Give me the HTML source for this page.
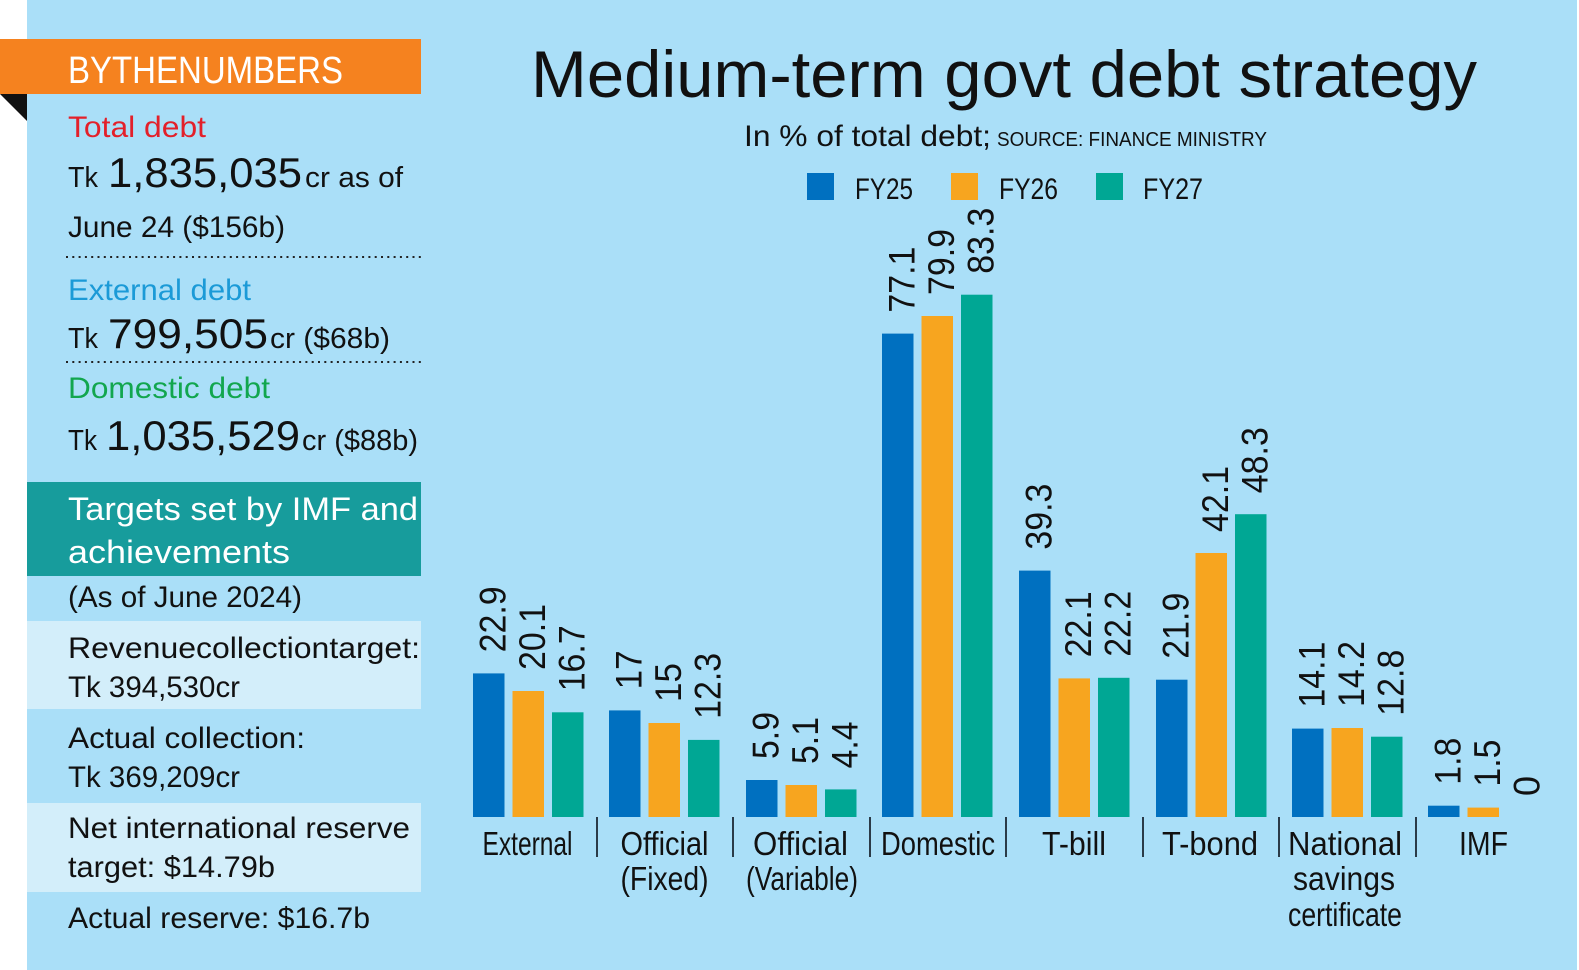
<!DOCTYPE html>
<html><head><meta charset="utf-8"><style>
html,body{margin:0;padding:0;background:#fff;}
svg{display:block;}
text{font-family:"Liberation Sans",sans-serif;}
</style></head><body>
<svg width="1579" height="970" viewBox="0 0 1579 970" xmlns="http://www.w3.org/2000/svg">
<rect x="0" y="0" width="1579" height="970" fill="#ffffff"/>
<rect x="27" y="0" width="1550" height="970" fill="#aadff8"/>
<!-- left panel -->
<rect x="0" y="39" width="421" height="55" fill="#f5821f"/>
<polygon points="0,94 27,94 27,121" fill="#111"/>
<text x="68" y="83" font-size="38" fill="#fff" textLength="275" lengthAdjust="spacingAndGlyphs">BYTHENUMBERS</text>
<text x="68" y="137" font-size="30" fill="#e3202a" textLength="138" lengthAdjust="spacingAndGlyphs">Total debt</text>
<text x="68" y="187" font-size="29" fill="#111" textLength="30" lengthAdjust="spacingAndGlyphs">Tk</text>
<text x="108" y="187" font-size="42" fill="#111" textLength="194" lengthAdjust="spacingAndGlyphs">1,835,035</text>
<text x="305" y="187" font-size="29" fill="#111" textLength="98" lengthAdjust="spacingAndGlyphs">cr as of</text>
<text x="68" y="237" font-size="30" fill="#111" textLength="217" lengthAdjust="spacingAndGlyphs">June 24 ($156b)</text>
<line x1="66" y1="257" x2="422" y2="257" stroke="#222" stroke-width="2" stroke-dasharray="2 4.3"/>
<text x="68" y="300" font-size="30" fill="#1b9ad7" textLength="183" lengthAdjust="spacingAndGlyphs">External debt</text>
<text x="68" y="348" font-size="29" fill="#111" textLength="30" lengthAdjust="spacingAndGlyphs">Tk</text>
<text x="108" y="348" font-size="42" fill="#111" textLength="160" lengthAdjust="spacingAndGlyphs">799,505</text>
<text x="270" y="348" font-size="29" fill="#111" textLength="120" lengthAdjust="spacingAndGlyphs">cr ($68b)</text>
<line x1="66" y1="362" x2="422" y2="362" stroke="#222" stroke-width="2" stroke-dasharray="2 4.3"/>
<text x="68" y="398" font-size="30" fill="#12a64e" textLength="202" lengthAdjust="spacingAndGlyphs">Domestic debt</text>
<text x="68" y="450" font-size="29" fill="#111" textLength="29" lengthAdjust="spacingAndGlyphs">Tk</text>
<text x="106" y="450" font-size="42" fill="#111" textLength="194" lengthAdjust="spacingAndGlyphs">1,035,529</text>
<text x="302" y="450" font-size="29" fill="#111" textLength="116" lengthAdjust="spacingAndGlyphs">cr ($88b)</text>

<rect x="27" y="482" width="394" height="94" fill="#179c9c"/>
<text x="68" y="520" font-size="32" fill="#fff" textLength="350" lengthAdjust="spacingAndGlyphs">Targets set by IMF and</text>
<text x="68" y="563" font-size="32" fill="#fff" textLength="222" lengthAdjust="spacingAndGlyphs">achievements</text>
<text x="68" y="607" font-size="30" fill="#111" textLength="234" lengthAdjust="spacingAndGlyphs">(As of June 2024)</text>
<rect x="27" y="621" width="394" height="88" fill="#d3eefa"/>
<text x="68" y="658" font-size="30" fill="#111" textLength="352" lengthAdjust="spacingAndGlyphs">Revenuecollectiontarget:</text>
<text x="68" y="697" font-size="30" fill="#111" textLength="172" lengthAdjust="spacingAndGlyphs">Tk 394,530cr</text>
<text x="68" y="748" font-size="30" fill="#111" textLength="237" lengthAdjust="spacingAndGlyphs">Actual collection:</text>
<text x="68" y="787" font-size="30" fill="#111" textLength="172" lengthAdjust="spacingAndGlyphs">Tk 369,209cr</text>
<rect x="27" y="803" width="394" height="89" fill="#d3eefa"/>
<text x="68" y="838" font-size="30" fill="#111" textLength="342" lengthAdjust="spacingAndGlyphs">Net international reserve</text>
<text x="68" y="877" font-size="30" fill="#111" textLength="207" lengthAdjust="spacingAndGlyphs">target: $14.79b</text>
<text x="68" y="928" font-size="30" fill="#111" textLength="302" lengthAdjust="spacingAndGlyphs">Actual reserve: $16.7b</text>

<!-- title -->
<text x="531" y="97" font-size="66" fill="#111" textLength="946" lengthAdjust="spacingAndGlyphs">Medium-term govt debt strategy</text>
<text x="744" y="146" font-size="30" fill="#111" textLength="247" lengthAdjust="spacingAndGlyphs">In % of total debt;</text>
<text x="997" y="146" font-size="20" fill="#111" textLength="270" lengthAdjust="spacingAndGlyphs">SOURCE: FINANCE MINISTRY</text>

<!-- legend -->
<rect x="807" y="173" width="27" height="27" fill="#0070c0"/>
<text x="855" y="199" font-size="30" fill="#111" textLength="58" lengthAdjust="spacingAndGlyphs">FY25</text>
<rect x="951" y="173" width="27" height="27" fill="#f7a51f"/>
<text x="999" y="199" font-size="30" fill="#111" textLength="59" lengthAdjust="spacingAndGlyphs">FY26</text>
<rect x="1096" y="173" width="27" height="27" fill="#00a794"/>
<text x="1143" y="199" font-size="30" fill="#111" textLength="60" lengthAdjust="spacingAndGlyphs">FY27</text>

<!-- bars -->
<g>
<!-- External 473 -->
<rect x="473" y="673.4" width="31.5" height="143.6" fill="#0070c0"/>
<rect x="512.5" y="691" width="31.5" height="126" fill="#f7a51f"/>
<rect x="552" y="712.3" width="31.5" height="104.7" fill="#00a794"/>
<!-- Fixed 609 -->
<rect x="609" y="710.4" width="31.5" height="106.6" fill="#0070c0"/>
<rect x="648.5" y="723" width="31.5" height="94" fill="#f7a51f"/>
<rect x="688" y="739.9" width="31.5" height="77.1" fill="#00a794"/>
<!-- Variable 746 -->
<rect x="746" y="780" width="31.5" height="37" fill="#0070c0"/>
<rect x="785.5" y="785" width="31.5" height="32" fill="#f7a51f"/>
<rect x="825" y="789.4" width="31.5" height="27.6" fill="#00a794"/>
<!-- Domestic 882 -->
<rect x="882" y="333.6" width="31.5" height="483.4" fill="#0070c0"/>
<rect x="921.5" y="316" width="31.5" height="501" fill="#f7a51f"/>
<rect x="961" y="294.7" width="31.5" height="522.3" fill="#00a794"/>
<!-- T-bill 1019 -->
<rect x="1019" y="570.6" width="31.5" height="246.4" fill="#0070c0"/>
<rect x="1058.5" y="678.4" width="31.5" height="138.6" fill="#f7a51f"/>
<rect x="1098" y="677.8" width="31.5" height="139.2" fill="#00a794"/>
<!-- T-bond 1156 -->
<rect x="1156" y="679.7" width="31.5" height="137.3" fill="#0070c0"/>
<rect x="1195.5" y="553" width="31.5" height="264" fill="#f7a51f"/>
<rect x="1235" y="514.2" width="31.5" height="302.8" fill="#00a794"/>
<!-- National 1292 -->
<rect x="1292" y="728.6" width="31.5" height="88.4" fill="#0070c0"/>
<rect x="1331.5" y="728" width="31.5" height="89" fill="#f7a51f"/>
<rect x="1371" y="736.7" width="31.5" height="80.3" fill="#00a794"/>
<!-- IMF 1428 -->
<rect x="1428" y="805.7" width="31.5" height="11.3" fill="#0070c0"/>
<rect x="1467.5" y="807.6" width="31.5" height="9.4" fill="#f7a51f"/>
</g>

<!-- value labels -->
<g font-size="37" fill="#111">
<text transform="translate(505.5,652.4) rotate(-90)" textLength="66" lengthAdjust="spacingAndGlyphs">22.9</text>
<text transform="translate(545,670) rotate(-90)" textLength="66" lengthAdjust="spacingAndGlyphs">20.1</text>
<text transform="translate(584.5,691.3) rotate(-90)" textLength="66" lengthAdjust="spacingAndGlyphs">16.7</text>

<text transform="translate(641.5,689.4) rotate(-90)" textLength="39" lengthAdjust="spacingAndGlyphs">17</text>
<text transform="translate(681,702) rotate(-90)" textLength="39" lengthAdjust="spacingAndGlyphs">15</text>
<text transform="translate(720.5,718.9) rotate(-90)" textLength="66" lengthAdjust="spacingAndGlyphs">12.3</text>

<text transform="translate(778.5,759) rotate(-90)" textLength="47" lengthAdjust="spacingAndGlyphs">5.9</text>
<text transform="translate(818,764) rotate(-90)" textLength="47" lengthAdjust="spacingAndGlyphs">5.1</text>
<text transform="translate(857.5,768.4) rotate(-90)" textLength="47" lengthAdjust="spacingAndGlyphs">4.4</text>

<text transform="translate(914.5,312.6) rotate(-90)" textLength="66" lengthAdjust="spacingAndGlyphs">77.1</text>
<text transform="translate(954,295) rotate(-90)" textLength="66" lengthAdjust="spacingAndGlyphs">79.9</text>
<text transform="translate(993.5,273.7) rotate(-90)" textLength="66" lengthAdjust="spacingAndGlyphs">83.3</text>

<text transform="translate(1051.5,549.6) rotate(-90)" textLength="66" lengthAdjust="spacingAndGlyphs">39.3</text>
<text transform="translate(1091,657.4) rotate(-90)" textLength="66" lengthAdjust="spacingAndGlyphs">22.1</text>
<text transform="translate(1130.5,656.8) rotate(-90)" textLength="66" lengthAdjust="spacingAndGlyphs">22.2</text>

<text transform="translate(1188.5,658.7) rotate(-90)" textLength="66" lengthAdjust="spacingAndGlyphs">21.9</text>
<text transform="translate(1228,532) rotate(-90)" textLength="66" lengthAdjust="spacingAndGlyphs">42.1</text>
<text transform="translate(1267.5,493.2) rotate(-90)" textLength="66" lengthAdjust="spacingAndGlyphs">48.3</text>

<text transform="translate(1324.5,707.6) rotate(-90)" textLength="66" lengthAdjust="spacingAndGlyphs">14.1</text>
<text transform="translate(1364,707) rotate(-90)" textLength="66" lengthAdjust="spacingAndGlyphs">14.2</text>
<text transform="translate(1403.5,715.7) rotate(-90)" textLength="66" lengthAdjust="spacingAndGlyphs">12.8</text>

<text transform="translate(1460.5,784.7) rotate(-90)" textLength="47" lengthAdjust="spacingAndGlyphs">1.8</text>
<text transform="translate(1500,786.6) rotate(-90)" textLength="47" lengthAdjust="spacingAndGlyphs">1.5</text>
<text transform="translate(1539.5,796) rotate(-90)" textLength="20" lengthAdjust="spacingAndGlyphs">0</text>
</g>

<!-- separators -->
<g stroke="#2b3b48" stroke-width="2">
<line x1="597" y1="817" x2="597" y2="857"/>
<line x1="733" y1="817" x2="733" y2="857"/>
<line x1="870" y1="817" x2="870" y2="857"/>
<line x1="1006" y1="817" x2="1006" y2="857"/>
<line x1="1143" y1="817" x2="1143" y2="857"/>
<line x1="1279" y1="817" x2="1279" y2="857"/>
<line x1="1416" y1="817" x2="1416" y2="857"/>
</g>

<!-- category labels -->
<g font-size="33" fill="#111" text-anchor="middle">
<text x="527.5" y="855" textLength="90" lengthAdjust="spacingAndGlyphs">External</text>
<text x="664.5" y="855" textLength="88" lengthAdjust="spacingAndGlyphs">Official</text>
<text x="664.5" y="890" textLength="88" lengthAdjust="spacingAndGlyphs">(Fixed)</text>
<text x="800.5" y="855" textLength="95" lengthAdjust="spacingAndGlyphs">Official</text>
<text x="802" y="890" textLength="112" lengthAdjust="spacingAndGlyphs">(Variable)</text>
<text x="938" y="855" textLength="114" lengthAdjust="spacingAndGlyphs">Domestic</text>
<text x="1074" y="855" textLength="64" lengthAdjust="spacingAndGlyphs">T-bill</text>
<text x="1210" y="855" textLength="96" lengthAdjust="spacingAndGlyphs">T-bond</text>
<text x="1345" y="855" textLength="114" lengthAdjust="spacingAndGlyphs">National</text>
<text x="1344" y="890" textLength="102" lengthAdjust="spacingAndGlyphs">savings</text>
<text x="1345" y="926" textLength="114" lengthAdjust="spacingAndGlyphs">certificate</text>
<text x="1483.5" y="855" textLength="49" lengthAdjust="spacingAndGlyphs">IMF</text>
</g>
</svg>
</body></html>
